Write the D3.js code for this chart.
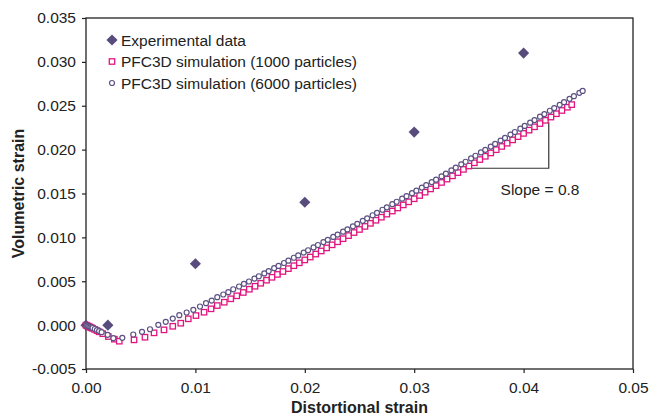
<!DOCTYPE html>
<html>
<head>
<meta charset="utf-8">
<script src="https://cdn.jsdelivr.net/npm/d3@7"></script>
<style>
  body { margin: 0; background: #fff; }
  svg { font-family: "Liberation Sans", Arial, Helvetica, sans-serif; }
  .tick text { font-size: 15.5px; fill: #222; }
  .tick line { stroke: #222; stroke-width: 1.2px; }
</style>
</head>
<body>
<div id="chart"></div>
<script>
// experimental data (distortional strain, volumetric strain)
const experimental = [
  [0, 0], [0.002, 0.0], [0.01, 0.007], [0.02, 0.014], [0.03, 0.022], [0.04, 0.031]
];

// PFC3D, 1000 particles
const sim1000 = [
  [0, 0], [0.0001, -0.00006], [0.0002, -0.00012], [0.0003, -0.00018], [0.0004, -0.00025],
  [0.0005, -0.00031], [0.0006, -0.00037], [0.0008, -0.00049], [0.0010, -0.00062], [0.0012, -0.00076],
  [0.00153, -0.00098], [0.00204, -0.00130], [0.00259, -0.00160], [0.00304, -0.00183],
  [0.00439, -0.00168], [0.00539, -0.00138], [0.00622, -0.00088], [0.00713, -0.00054],
  [0.00793, -0.00013], [0.00866, 0.00022], [0.00935, 0.00072], [0.01005, 0.00109],
  [0.01079, 0.00147], [0.01143, 0.00186], [0.01200, 0.00223], [0.01264, 0.00261],
  [0.01323, 0.00300], [0.01378, 0.00334], [0.01438, 0.00372], [0.01493, 0.00409],
  [0.01545, 0.00443], [0.01597, 0.00477], [0.0165, 0.00512], [0.0170, 0.00545],
  [0.0175, 0.00578], [0.0180, 0.00611], [0.0185, 0.00644], [0.0190, 0.00677],
  [0.0195, 0.00710], [0.0200, 0.00743], [0.0205, 0.00776], [0.0210, 0.00810],
  [0.0215, 0.00845], [0.0220, 0.00880], [0.0225, 0.00915], [0.0230, 0.00950],
  [0.0235, 0.00985], [0.0240, 0.01020], [0.0245, 0.01055], [0.0250, 0.01090],
  [0.0255, 0.01125], [0.0260, 0.01160], [0.0265, 0.01195], [0.0270, 0.01230],
  [0.0275, 0.01265], [0.0280, 0.01300], [0.0285, 0.01335], [0.0290, 0.01370],
  [0.0295, 0.01405], [0.0300, 0.01440], [0.0305, 0.01477], [0.0310, 0.01515],
  [0.0315, 0.01552], [0.0320, 0.01589], [0.0325, 0.01626], [0.0330, 0.01664],
  [0.0335, 0.01701], [0.0340, 0.01738], [0.0345, 0.01775], [0.0350, 0.01813],
  [0.0355, 0.01850], [0.0360, 0.01887], [0.0365, 0.01924], [0.0370, 0.01962],
  [0.0375, 0.01999], [0.0380, 0.02036], [0.0385, 0.02073], [0.0390, 0.02111],
  [0.0395, 0.02148], [0.0400, 0.02185], [0.0405, 0.02222], [0.0410, 0.02260],
  [0.0415, 0.02297], [0.0420, 0.02334], [0.0425, 0.02371], [0.0430, 0.02409],
  [0.0435, 0.02446], [0.0440, 0.02483], [0.0444, 0.02513]
];

// PFC3D, 6000 particles
const sim6000 = [
  [0, 0], [0.0001, -0.00005], [0.0002, -0.0001], [0.0003, -0.00016], [0.0004, -0.00022],
  [0.0005, -0.00027], [0.0006, -0.00033], [0.0008, -0.00044], [0.0010, -0.00056], [0.0012, -0.00068],
  [0.00143, -0.00080], [0.00198, -0.00110], [0.00250, -0.00149], [0.00332, -0.00145],
  [0.00432, -0.00107], [0.00512, -0.00076], [0.00585, -0.00047], [0.00661, 0.00003],
  [0.00729, 0.00038], [0.00793, 0.00075], [0.00853, 0.00113], [0.00920, 0.00144],
  [0.00981, 0.00174], [0.01042, 0.00212], [0.01097, 0.00250], [0.01149, 0.00280],
  [0.01200, 0.00318], [0.01255, 0.00349], [0.01301, 0.00375], [0.01346, 0.00409],
  [0.01399, 0.00440], [0.01444, 0.00471], [0.01490, 0.00497],
  [0.0154, 0.00530], [0.0158, 0.00557], [0.0163, 0.00589], [0.0167, 0.00616],
  [0.0172, 0.00649], [0.0176, 0.00675], [0.0181, 0.00708], [0.0185, 0.00735],
  [0.0190, 0.00768], [0.0194, 0.00794], [0.0199, 0.00827], [0.0203, 0.00853],
  [0.0208, 0.00886], [0.0212, 0.00913], [0.0217, 0.00946], [0.0221, 0.00972],
  [0.0226, 0.01005], [0.0230, 0.01032], [0.0235, 0.01065], [0.0239, 0.01091],
  [0.0244, 0.01126], [0.0248, 0.01154], [0.0253, 0.01189], [0.0257, 0.01217],
  [0.0262, 0.01252], [0.0266, 0.01280], [0.0271, 0.01315], [0.0275, 0.01343],
  [0.0280, 0.01378], [0.0284, 0.01406], [0.0289, 0.01441], [0.0293, 0.01469],
  [0.0298, 0.01504], [0.0302, 0.01532], [0.0307, 0.01567], [0.0311, 0.01595],
  [0.0316, 0.01630], [0.0320, 0.01658], [0.0325, 0.01696], [0.0329, 0.01726],
  [0.0334, 0.01764], [0.0338, 0.01794], [0.0343, 0.01832], [0.0347, 0.01862],
  [0.0352, 0.01900], [0.0356, 0.01930], [0.0361, 0.01968], [0.0365, 0.01998],
  [0.0370, 0.02035], [0.0374, 0.02065], [0.0379, 0.02103], [0.0383, 0.02133],
  [0.0388, 0.02171], [0.0392, 0.02201], [0.0397, 0.02239], [0.0401, 0.02270],
  [0.0406, 0.02307], [0.0410, 0.02337], [0.0415, 0.02375], [0.0419, 0.02405],
  [0.0424, 0.02443], [0.0428, 0.02473], [0.0433, 0.02511], [0.0437, 0.02541],
  [0.0442, 0.02579], [0.0446, 0.02609], [0.0451, 0.02647], [0.0454, 0.02669]
];

// slope triangle: corner points
const slopeTriangle = [[0.0349, 0.01788], [0.0423, 0.01788], [0.0423, 0.02312]];
const slopeLabel = "Slope = 0.8";

const xTicks = [0, 0.01, 0.02, 0.03, 0.04, 0.05];
const yTicks = [-0.005, 0, 0.005, 0.01, 0.015, 0.02, 0.025, 0.03, 0.035];
const legendLabels = [
  "Experimental data",
  "PFC3D simulation (1000 particles)",
  "PFC3D simulation (6000 particles)"
];

const width = 650, height = 418;
const margin = { top: 18, right: 17, bottom: 49, left: 86 };
const innerW = width - margin.left - margin.right;
const innerH = height - margin.top - margin.bottom;

const darkPurple = "#574c7c";
const magenta = "#e2157f";
const circleColor = "#5c5182";

const svg = d3.select("#chart").append("svg")
  .attr("width", width)
  .attr("height", height);

const plot = svg.append("g")
  .attr("transform", `translate(${margin.left},${margin.top})`);

const x = d3.scaleLinear().domain([0, 0.05]).range([0, innerW]);
const y = d3.scaleLinear().domain([-0.005, 0.035]).range([innerH, 0]);

const minusFix = f => d => f(d).replace("\u2212", "-");

// axes
plot.append("g")
  .attr("transform", `translate(0,${innerH})`)
  .call(d3.axisBottom(x).tickValues(xTicks).tickSizeInner(4).tickSizeOuter(0).tickPadding(9)
    .tickFormat(minusFix(d3.format(".2f"))))
  .call(g => g.select(".domain").remove());

plot.append("g")
  .call(d3.axisLeft(y).tickValues(yTicks).tickSizeInner(4).tickSizeOuter(0).tickPadding(6)
    .tickFormat(minusFix(d3.format(".3f"))))
  .call(g => g.select(".domain").remove());

plot.selectAll(".tick text").attr("font-family", null);

// frame
plot.append("rect")
  .attr("width", innerW)
  .attr("height", innerH)
  .attr("fill", "none")
  .attr("stroke", "#222")
  .attr("stroke-width", 1.3);

// slope triangle
plot.append("path")
  .attr("d", d3.line().x(d => x(d[0])).y(d => y(d[1]))(slopeTriangle))
  .attr("fill", "none")
  .attr("stroke", "#333")
  .attr("stroke-width", 1.2);

plot.append("text")
  .attr("x", x(0.0415))
  .attr("y", y(0.0148))
  .attr("text-anchor", "middle")
  .attr("font-size", "15.5px")
  .attr("fill", "#222")
  .text(slopeLabel);

// markers
const diamond = d3.symbol().type(d3.symbolSquare).size(62);

plot.append("g").selectAll("path")
  .data(experimental)
  .enter()
  .append("path")
  .attr("d", diamond)
  .attr("transform", d => `translate(${x(d[0])},${y(d[1])}) rotate(45)`)
  .attr("fill", darkPurple);

plot.append("g").selectAll("rect")
  .data(sim1000)
  .enter()
  .append("rect")
  .attr("x", d => x(d[0]) - 2.7)
  .attr("y", d => y(d[1]) - 2.7)
  .attr("width", 5.4)
  .attr("height", 5.4)
  .attr("fill", "#fff")
  .attr("stroke", magenta)
  .attr("stroke-width", 1.3);

plot.append("g").selectAll("circle")
  .data(sim6000)
  .enter()
  .append("circle")
  .attr("cx", d => x(d[0]))
  .attr("cy", d => y(d[1]))
  .attr("r", 2.5)
  .attr("fill", "#fff")
  .attr("stroke", circleColor)
  .attr("stroke-width", 1.2);

// legend
const legend = svg.append("g").attr("transform", "translate(112,40)");
const rowH = 21.5;

legend.append("path")
  .attr("d", diamond)
  .attr("transform", "rotate(45)")
  .attr("fill", darkPurple);

legend.append("rect")
  .attr("x", -2.7).attr("y", rowH - 2.7)
  .attr("width", 5.4).attr("height", 5.4)
  .attr("fill", "#fff")
  .attr("stroke", magenta)
  .attr("stroke-width", 1.3);

legend.append("circle")
  .attr("cx", 0).attr("cy", rowH * 2)
  .attr("r", 2.5)
  .attr("fill", "#fff")
  .attr("stroke", circleColor)
  .attr("stroke-width", 1.2);

legend.selectAll("text")
  .data(legendLabels)
  .enter()
  .append("text")
  .attr("x", 9)
  .attr("y", (d, i) => i * rowH)
  .attr("dy", "0.36em")
  .attr("font-size", "15.5px")
  .attr("fill", "#222")
  .text(d => d);

// axis titles
svg.append("text")
  .attr("x", margin.left + innerW / 2)
  .attr("y", 413)
  .attr("text-anchor", "middle")
  .attr("font-size", "16px")
  .attr("font-weight", "bold")
  .attr("fill", "#222")
  .text("Distortional strain");

svg.append("text")
  .attr("transform", `translate(24,${margin.top + innerH / 2}) rotate(-90)`)
  .attr("text-anchor", "middle")
  .attr("font-size", "16px")
  .attr("font-weight", "bold")
  .attr("fill", "#222")
  .text("Volumetric strain");
</script>
</body>
</html>
